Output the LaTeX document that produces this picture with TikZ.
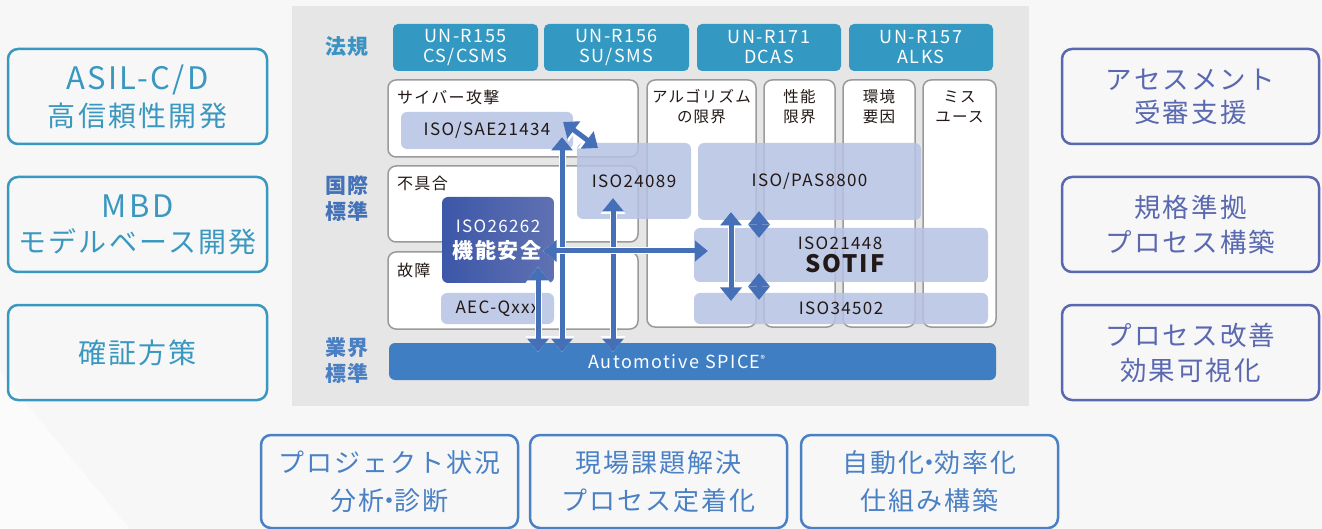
\documentclass[tikz,border=0pt]{standalone}
\usepackage{fontspec}
\setmainfont{Noto Sans CJK JP}[LetterSpace=8]
\usetikzlibrary{arrows.meta}
\definecolor{pagebg}{HTML}{F7F7F7}
\definecolor{pagelt}{HTML}{FBFBFB}
\definecolor{panelbg}{HTML}{E6E6E6}
\definecolor{unteal}{HTML}{3399C2}
\definecolor{rowteal}{HTML}{3A93C2}
\definecolor{rowblue}{HTML}{4472B8}
\definecolor{rowblue2}{HTML}{4A7FC3}
\definecolor{colgray}{HTML}{9A9A9A}
\definecolor{lboxc}{HTML}{B6C2E4}
\definecolor{ablue}{HTML}{4570B8}
\definecolor{spiceblue}{HTML}{3F7EC2}
\definecolor{darktxt}{HTML}{221815}
\definecolor{gleft}{HTML}{3C57A8}
\definecolor{gright}{HTML}{6071B2}
\definecolor{leftc}{HTML}{3A98C0}
\definecolor{rightc}{HTML}{5A68B0}
\definecolor{botc}{HTML}{4A80C4}
\newcommand{\fsz}[1]{\fontsize{#1}{#1}\selectfont}
\newcommand{\ndot}{\hspace{-0.3em}・\hspace{-0.3em}}
\tikzset{
  unbox/.style={fill=unteal, rounded corners=5pt, text=white, align=center, inner sep=0pt,
    minimum width=145, minimum height=47, font=\fontsize{18}{20}\selectfont},
  catbox/.style={draw=colgray, line width=1.5pt, fill=white, rounded corners=8pt, inner sep=0pt},
  lbox/.style={fill=lboxc, fill opacity=0.85, text opacity=1, text=darktxt, rounded corners=6pt, inner sep=0pt,
    font=\fsz{17}},
  rowlabel/.style={font=\bfseries\fontsize{21}{26}\selectfont, align=center, inner sep=0pt},
  catlabel/.style={font=\fsz{16}, text=darktxt, inner sep=0pt},
  collabel/.style={font=\fontsize{15.5}{20}\selectfont, text=darktxt, align=center, inner sep=0pt},
  sidebox/.style={draw, line width=2.5pt, rounded corners=10pt, align=center, inner sep=0pt,
    minimum width=259, minimum height=95},
  arrw/.style={draw=white, line width=7pt,
    arrows={Triangle[width=24pt,length=16pt]-Triangle[width=24pt,length=16pt]}},
  arr/.style={draw=ablue, line width=5pt,
    arrows={Triangle[width=21pt,length=13.5pt]-Triangle[width=21pt,length=13.5pt]}},
}
\newcommand{\dbl}[2]{\draw[arrw] (#1) -- (#2); \draw[arr] (#1) -- (#2);}
\begin{document}
\begin{tikzpicture}[x=1pt,y=-1pt]
\useasboundingbox (0,0) rectangle (1322,529);
\fill[pagebg] (0,0) rectangle (1322,529);
\fill[pagelt] (0,372) -- (130,529) -- (0,529) -- cycle;
% central panel
\fill[panelbg] (292,6) rectangle (1029,406);

% row labels
\node[rowlabel, text=rowteal] (rl1) at (347,47) {法規};
\node[rowlabel, text=rowblue] (rl2) at (347,199) {国際\\標準};
\node[rowlabel, text=rowblue2] (rl3) at (347,361) {業界\\標準};

% UN boxes
\node[unbox] (un155) at (465.5,47.5) {UN-R155\\CS/CSMS};
\node[unbox] (un156) at (616.5,47.5) {UN-R156\\SU/SMS};
\node[unbox, minimum width=144] (un171) at (769,47.5) {UN-R171\\DCAS};
\node[unbox, minimum width=144] (un157) at (921,47.5) {UN-R157\\ALKS};

% category boxes
\node[catbox, minimum width=250, minimum height=77] (cyber) at (513,118.5) {};
\node[catbox, minimum width=250, minimum height=76] (fugu) at (513,204) {};
\node[catbox, minimum width=250, minimum height=77] (kosho) at (513,290.5) {};
\node[catbox, minimum width=109, minimum height=247] (algo) at (701.5,203.5) {};
\node[catbox, minimum width=71, minimum height=247] (seino) at (799.5,203.5) {};
\node[catbox, minimum width=72, minimum height=247] (kankyo) at (879,203.5) {};
\node[catbox, minimum width=73, minimum height=247] (misuse) at (959.5,203.5) {};

\node[catlabel, anchor=west] (lcyber) at (397,97) {サイバー攻撃};
\node[catlabel, anchor=west] (lfugu) at (397,183) {不具合};
\node[catlabel, anchor=west] (lkosho) at (397,270) {故障};
\node[collabel] (lalgo) at (701.5,107) {アルゴリズム\\の限界};
\node[collabel] (lseino) at (799.5,107) {性能\\限界};
\node[collabel] (lkankyo) at (879,107) {環境\\要因};
\node[collabel] (lmisuse) at (959.5,107) {ミス\\ユース};

% standard boxes
\node[lbox, minimum width=172, minimum height=37] (sae) at (487,130.5) {ISO/SAE21434};
\node[lbox, minimum width=114, minimum height=76] (i24089) at (634,181) {ISO24089};
\node[lbox, minimum width=223, minimum height=77] (pas) at (809.5,181.5) {ISO/PAS8800};
\node[lbox, minimum width=294, minimum height=54] (sotif) at (841,255) {};
\node[lbox, minimum width=294, minimum height=31] (i34502) at (841,308.5) {ISO34502};
\node[lbox, minimum width=113, minimum height=31] (aec) at (497.5,308.5) {AEC-Qxxx};
\node[font=\fsz{17}, text=darktxt, inner sep=0pt] (tsotif1) at (840,243) {ISO21448};
\node[font=\bfseries\fsz{24}, text=darktxt, inner sep=0pt] (tsotif2) at (845,264) {SOTIF};

% ISO26262
\node[left color=gleft, right color=gright, rounded corners=6pt, minimum width=112, minimum height=86, inner sep=0pt] (fs) at (498,240) {};
\node[font=\fsz{17}, text=white, inner sep=0pt] (fs1) at (498,226) {ISO26262};
\node[font=\bfseries\fsz{21}, text=white, inner sep=0pt] (fs2) at (497,250) {機能安全};

% Automotive SPICE
\node[fill=spiceblue, rounded corners=6pt, minimum width=607, minimum height=37, inner sep=0pt] (spice) at (692.5,361.5) {};
\node[font=\fsz{18}, text=white, inner sep=0pt] (tspice) at (677,362) {Automotive\hspace{0.35em}SPICE\textsuperscript{\fsz{9}®}};

% arrow end coordinates
\coordinate (a1s) at (563,122); \coordinate (a1e) at (598,148);
\coordinate (a2s) at (562,352); \coordinate (a2e) at (562,137);
\coordinate (a3s) at (613,198); \coordinate (a3e) at (613,352);
\coordinate (a4s) at (538,267); \coordinate (a4e) at (538,352);
\coordinate (a5s) at (543,251); \coordinate (a5e) at (708,251);
\coordinate (a6s) at (731,212); \coordinate (a6e) at (731,301);
\coordinate (a7s) at (759,211); \coordinate (a7e) at (759,238);
\coordinate (a8s) at (759,273); \coordinate (a8e) at (759,300);

\dbl{a1s}{a1e}
\dbl{a2s}{a2e}
\dbl{a3s}{a3e}
\dbl{a4s}{a4e}
\dbl{a5s}{a5e}
\dbl{a6s}{a6e}
\dbl{a7s}{a7e}
\dbl{a8s}{a8e}

% left boxes
\node[sidebox, draw=leftc, text=leftc, font=\fontsize{28}{37}\selectfont] (asil) at (137.5,96.5) {{\fontsize{31}{31}\selectfont ASIL-C/D}\\高信頼性開発};
\node[sidebox, draw=leftc, text=leftc, font=\fontsize{28}{35}\selectfont] (mbd) at (137.5,224.5) {{\fontsize{31}{31}\selectfont MBD}\\モデルベース開発};
\node[sidebox, draw=leftc, text=leftc, font=\fontsize{28}{35}\selectfont] (kakusho) at (137.5,352.5) {確証方策};

% right boxes
\node[sidebox, minimum width=257, draw=rightc, text=rightc, font=\fontsize{26.5}{33}\selectfont] (assess) at (1190.5,96.5) {アセスメント\\受審支援};
\node[sidebox, minimum width=257, draw=rightc, text=rightc, font=\fontsize{26.5}{35}\selectfont] (kikaku) at (1190.5,224.5) {規格準拠\\プロセス構築};
\node[sidebox, minimum width=257, draw=rightc, text=rightc, font=\fontsize{26.5}{35}\selectfont] (kaizen) at (1190.5,352.5) {プロセス改善\\効果可視化};

% bottom boxes
\node[sidebox, minimum width=257, minimum height=93, draw=botc, text=botc, font=\fontsize{26}{38}\selectfont] (proj) at (389.5,481.5) {プロジェクト状況\\分析\ndot 診断};
\node[sidebox, minimum width=257, minimum height=93, draw=botc, text=botc, font=\fontsize{26}{38}\selectfont] (genba) at (658.5,481.5) {現場課題解決\\プロセス定着化};
\node[sidebox, minimum width=257, minimum height=93, draw=botc, text=botc, font=\fontsize{26}{38}\selectfont] (auto) at (929.5,481.5) {自動化\ndot 効率化\\仕組み構築};
\end{tikzpicture}
\end{document}
